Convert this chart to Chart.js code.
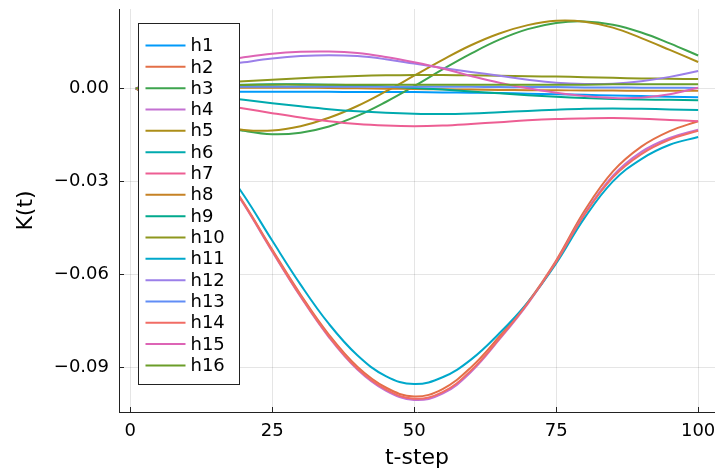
<!DOCTYPE html>
<html>
<head>
<meta charset="utf-8">
<script src="https://cdn.jsdelivr.net/npm/chart.js@4/dist/chart.umd.min.js"></script>
<style>
  html, body { margin: 0; padding: 0; background: #fff; }
  #wrap { width: 715px; height: 471px; }
</style>
</head>
<body>
<div id="wrap"><canvas id="kChart" width="715" height="471"></canvas></div>
<script>
// time steps the values were read at
const tSteps = [1, 5, 10, 15, 20, 25, 30, 35, 40, 45, 50, 55, 60, 65, 70, 75, 80, 85, 90, 95, 100];
const xTicks = [0, 25, 50, 75, 100];
const yTicks = [0, -0.03, -0.06, -0.09];

const h1  = [0, -0.0003, -0.0006, -0.0009, -0.0011, -0.0011, -0.0011, -0.0011, -0.0012, -0.0012, -0.0012, -0.0013, -0.0014, -0.0015, -0.0017, -0.0019, -0.0021, -0.0023, -0.0025, -0.0027, -0.0029];
const h2  = [0, -0.0040, -0.0120, -0.0235, -0.0370, -0.0520, -0.0665, -0.0795, -0.0898, -0.0965, -0.0994, -0.0970, -0.0900, -0.0800, -0.0690, -0.0555, -0.0395, -0.0268, -0.0188, -0.0138, -0.0106];
const h3  = [0, -0.0040, -0.0085, -0.0118, -0.0137, -0.0148, -0.0143, -0.0123, -0.0089, -0.0044, 0.0007, 0.0061, 0.0112, 0.0157, 0.0191, 0.0211, 0.0216, 0.0205, 0.0180, 0.0145, 0.0106];
const h4  = [0, -0.0041, -0.0122, -0.0238, -0.0374, -0.0526, -0.0672, -0.0803, -0.0907, -0.0975, -0.1005, -0.0985, -0.0915, -0.0810, -0.0695, -0.0560, -0.0405, -0.0282, -0.0205, -0.0160, -0.0133];
const h5  = [0, -0.0048, -0.0088, -0.0118, -0.0134, -0.0136, -0.0122, -0.0095, -0.0057, -0.0010, 0.0041, 0.0092, 0.0139, 0.0177, 0.0204, 0.0218, 0.0215, 0.0196, 0.0162, 0.0124, 0.0085];
const h6  = [0, -0.0008, -0.0017, -0.0027, -0.0037, -0.0048, -0.0058, -0.0067, -0.0074, -0.0079, -0.0082, -0.0083, -0.0081, -0.0077, -0.0073, -0.0069, -0.0066, -0.0065, -0.0066, -0.0068, -0.0070];
const h7  = [0, -0.0015, -0.0033, -0.0050, -0.0065, -0.0080, -0.0094, -0.0106, -0.0115, -0.0120, -0.0122, -0.0120, -0.0115, -0.0109, -0.0103, -0.0099, -0.0097, -0.0096, -0.0098, -0.0102, -0.0106];
const h8  = [0, 0.0001, 0.0002, 0.0002, 0.0002, 0.0002, 0.0002, 0.0001, 0.0000, -0.0001, -0.0002, -0.0003, -0.0004, -0.0005, -0.0006, -0.0006, -0.0007, -0.0007, -0.0008, -0.0008, -0.0008];
const h9  = [0, 0.0003, 0.0007, 0.0010, 0.0012, 0.0013, 0.0013, 0.0012, 0.0010, 0.0006, 0.0001, -0.0004, -0.0010, -0.0016, -0.0022, -0.0027, -0.0031, -0.0034, -0.0036, -0.0037, -0.0038];
const h10 = [0, 0.0006, 0.0012, 0.0018, 0.0023, 0.0028, 0.0033, 0.0037, 0.0040, 0.0042, 0.0043, 0.0043, 0.0042, 0.0041, 0.0039, 0.0038, 0.0036, 0.0034, 0.0032, 0.0031, 0.0030];
const h11 = [0, -0.0036, -0.0111, -0.0218, -0.0345, -0.0491, -0.0633, -0.0760, -0.0861, -0.0928, -0.0954, -0.0932, -0.0875, -0.0790, -0.0690, -0.0565, -0.0418, -0.0300, -0.0228, -0.0182, -0.0157];
const h12 = [0, 0.0025, 0.0052, 0.0071, 0.0084, 0.0096, 0.0104, 0.0107, 0.0104, 0.0094, 0.0080, 0.0066, 0.0053, 0.0041, 0.0028, 0.0018, 0.0014, 0.0015, 0.0023, 0.0037, 0.0056];
const h13 = [0, 0.0002, 0.0003, 0.0004, 0.0005, 0.0005, 0.0005, 0.0005, 0.0005, 0.0005, 0.0005, 0.0005, 0.0005, 0.0004, 0.0004, 0.0004, 0.0003, 0.0003, 0.0002, 0.0002, 0.0001];
const h14 = [0, -0.0041, -0.0121, -0.0237, -0.0372, -0.0524, -0.0670, -0.0800, -0.0904, -0.0971, -0.1001, -0.0980, -0.0910, -0.0807, -0.0693, -0.0560, -0.0407, -0.0287, -0.0212, -0.0165, -0.0137];
const h15 = [0, 0.0030, 0.0062, 0.0085, 0.0100, 0.0112, 0.0118, 0.0119, 0.0114, 0.0101, 0.0084, 0.0064, 0.0040, 0.0018, 0.0000, -0.0014, -0.0025, -0.0031, -0.0030, -0.0019, 0.0002];
const h16 = [0, 0.0004, 0.0008, 0.0010, 0.0011, 0.0012, 0.0012, 0.0012, 0.0012, 0.0012, 0.0012, 0.0012, 0.0012, 0.0012, 0.0012, 0.0012, 0.0012, 0.0013, 0.0013, 0.0013, 0.0013];

const seriesNames = ['h1', 'h2', 'h3', 'h4', 'h5', 'h6', 'h7', 'h8', 'h9', 'h10', 'h11', 'h12', 'h13', 'h14', 'h15', 'h16'];
const seriesValues = [h1, h2, h3, h4, h5, h6, h7, h8, h9, h10, h11, h12, h13, h14, h15, h16];
const colors = ['#009AFA', '#E36F47', '#3EA44E', '#C371D2', '#AC8E18', '#00AAAE', '#ED5E93', '#C68225',
                '#00A98D', '#8E971E', '#00A8CB', '#9B7FE9', '#618DF6', '#F16C65', '#DD64B5', '#6B9D29'];

const FONT = 'DejaVu Sans';

const datasets = seriesNames.map((name, i) => ({
    label: name,
    data: tSteps.map((t, j) => ({ x: t, y: seriesValues[i][j] })),
    borderColor: colors[i],
    borderWidth: 2,
    pointRadius: 0,
    fill: false,
    tension: 0.4,
    order: seriesNames.length - i   // last series on top, like the original
}));

// legend box inside the plot, top-left
const boxLegend = {
    id: 'boxLegend',
    afterDatasetsDraw(chart) {
        const { ctx, chartArea } = chart;
        const x0 = Math.round(chartArea.left + 19) + 0.5;
        const y0 = Math.round(chartArea.top + 14) + 0.5;
        const w = 101, h = 361, rowH = 21.33;
        ctx.save();
        ctx.fillStyle = '#fff';
        ctx.fillRect(x0, y0, w, h);
        ctx.strokeStyle = '#222';
        ctx.lineWidth = 1;
        ctx.strokeRect(x0, y0, w, h);
        ctx.font = '18px "' + FONT + '"';
        ctx.textBaseline = 'middle';
        ctx.fillStyle = '#000';
        chart.data.datasets.forEach((ds, i) => {
            const y = y0 + 22 + i * rowH;
            ctx.strokeStyle = ds.borderColor;
            ctx.lineWidth = 2;
            ctx.beginPath();
            ctx.moveTo(x0 + 7, y);
            ctx.lineTo(x0 + 47, y);
            ctx.stroke();
            ctx.fillText(ds.label, x0 + 52, y + 1);
        });
        ctx.restore();
    }
};

// short tick marks pointing into the plot
const innerTicks = {
    id: 'innerTicks',
    afterDraw(chart) {
        const { ctx, chartArea, scales } = chart;
        ctx.save();
        ctx.strokeStyle = '#222';
        ctx.lineWidth = 1;
        ctx.beginPath();
        yTicks.forEach(v => {
            const y = Math.round(scales.y.getPixelForValue(v)) + 0.5;
            ctx.moveTo(chartArea.left, y);
            ctx.lineTo(chartArea.left + 5, y);
        });
        xTicks.forEach(v => {
            const x = Math.round(scales.x.getPixelForValue(v)) + 0.5;
            ctx.moveTo(x, chartArea.bottom);
            ctx.lineTo(x, chartArea.bottom - 5);
        });
        ctx.stroke();
        ctx.restore();
    }
};

new Chart(document.getElementById('kChart').getContext('2d'), {
    type: 'line',
    data: { datasets: datasets },
    options: {
        responsive: false,
        animation: false,
        devicePixelRatio: 1,
        layout: { padding: { top: 9, right: 0, left: 0, bottom: 0 } },
        plugins: { legend: { display: false }, tooltip: { enabled: false } },
        scales: {
            x: {
                type: 'linear',
                min: -1.97,
                max: 102.97,
                afterBuildTicks: scale => { scale.ticks = xTicks.map(v => ({ value: v })); },
                afterFit: scale => {
                    scale.height = 59;
                    scale.paddingLeft = 0;
                    scale.paddingRight = 0;
                },
                grid: { color: 'rgba(0,0,0,0.1)', lineWidth: 1, drawTicks: false },
                border: { display: true, color: '#222', width: 1 },
                ticks: {
                    padding: 9,
                    color: '#000',
                    font: { family: FONT, size: 18 },
                    maxRotation: 0,
                    callback: v => String(v)
                },
                title: {
                    display: true,
                    text: 't-step',
                    color: '#000',
                    font: { family: FONT, size: 22 },
                    padding: { top: 0, bottom: 0 }
                }
            },
            y: {
                min: -0.1044,
                max: 0.0256,
                afterBuildTicks: scale => { scale.ticks = yTicks.map(v => ({ value: v })); },
                afterFit: scale => {
                    scale.width = 119;
                    scale.paddingTop = 0;
                    scale.paddingBottom = 0;
                },
                grid: { color: 'rgba(0,0,0,0.1)', lineWidth: 1, drawTicks: false },
                border: { display: true, color: '#222', width: 1 },
                ticks: {
                    padding: 10,
                    color: '#000',
                    font: { family: FONT, size: 18 },
                    callback: v => Math.abs(v) < 1e-9 ? '0.00' : (v < 0 ? '\u2212' : '') + Math.abs(v).toFixed(2)
                },
                title: {
                    display: true,
                    text: 'K(t)',
                    color: '#000',
                    font: { family: FONT, size: 22 },
                    padding: { top: 13, bottom: 0 }
                }
            }
        }
    },
    plugins: [boxLegend, innerTicks]
});
</script>
</body>
</html>
